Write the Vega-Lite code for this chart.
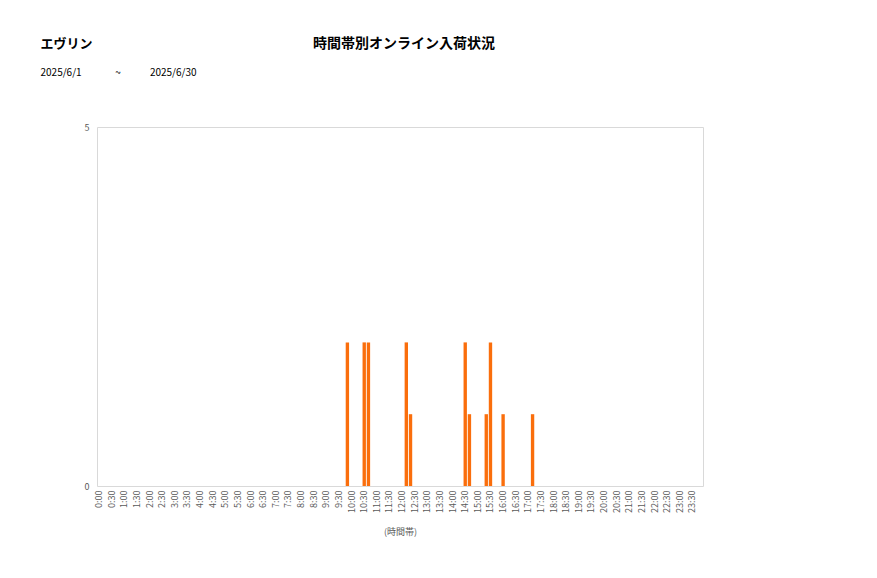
{
  "$schema": "https://vega.github.io/schema/vega-lite/v6.json",
  "padding": {"left": 40, "top": 36, "right": 5, "bottom": 5},
  "background": "white",
  "title": {
    "text": "エヴリン",
    "subtitle": "\u00a02025/6/1\u00a0\u00a0\u00a0\u00a0\u00a0\u00a0\u00a0\u00a0\u00a0\u00a0\u00a0\u00a0\u00a0\u00a0\u00a0~\u00a0\u00a0\u00a0\u00a0\u00a0\u00a0\u00a0\u00a0\u00a0\u00a0\u00a0\u00a0\u00a02025/6/30",
    "anchor": "start",
    "dx": -43,
    "font": "Noto Sans CJK JP",
    "fontSize": 13,
    "fontWeight": "bold",
    "color": "#000000",
    "subtitleFont": "Noto Sans CJK JP",
    "subtitleFontSize": 10,
    "subtitleColor": "#000000",
    "subtitlePadding": 17,
    "offset": -41
  },
  "vconcat": [
    {
      "title": {
        "text": "時間帯別オンライン入荷状況",
        "anchor": "middle",
        "dx": 4,
        "dy": -72,
        "font": "Noto Sans CJK JP",
        "fontSize": 14,
        "fontWeight": "bold",
        "color": "#000000",
        "offset": 0
      },
      "width": 606,
      "height": 359,
      "data": {
        "values": [
          {"t": "0:00", "n": 0}, {"t": "0:10", "n": 0}, {"t": "0:20", "n": 0}, {"t": "0:30", "n": 0}, {"t": "0:40", "n": 0}, {"t": "0:50", "n": 0},
          {"t": "1:00", "n": 0}, {"t": "1:10", "n": 0}, {"t": "1:20", "n": 0}, {"t": "1:30", "n": 0}, {"t": "1:40", "n": 0}, {"t": "1:50", "n": 0},
          {"t": "2:00", "n": 0}, {"t": "2:10", "n": 0}, {"t": "2:20", "n": 0}, {"t": "2:30", "n": 0}, {"t": "2:40", "n": 0}, {"t": "2:50", "n": 0},
          {"t": "3:00", "n": 0}, {"t": "3:10", "n": 0}, {"t": "3:20", "n": 0}, {"t": "3:30", "n": 0}, {"t": "3:40", "n": 0}, {"t": "3:50", "n": 0},
          {"t": "4:00", "n": 0}, {"t": "4:10", "n": 0}, {"t": "4:20", "n": 0}, {"t": "4:30", "n": 0}, {"t": "4:40", "n": 0}, {"t": "4:50", "n": 0},
          {"t": "5:00", "n": 0}, {"t": "5:10", "n": 0}, {"t": "5:20", "n": 0}, {"t": "5:30", "n": 0}, {"t": "5:40", "n": 0}, {"t": "5:50", "n": 0},
          {"t": "6:00", "n": 0}, {"t": "6:10", "n": 0}, {"t": "6:20", "n": 0}, {"t": "6:30", "n": 0}, {"t": "6:40", "n": 0}, {"t": "6:50", "n": 0},
          {"t": "7:00", "n": 0}, {"t": "7:10", "n": 0}, {"t": "7:20", "n": 0}, {"t": "7:30", "n": 0}, {"t": "7:40", "n": 0}, {"t": "7:50", "n": 0},
          {"t": "8:00", "n": 0}, {"t": "8:10", "n": 0}, {"t": "8:20", "n": 0}, {"t": "8:30", "n": 0}, {"t": "8:40", "n": 0}, {"t": "8:50", "n": 0},
          {"t": "9:00", "n": 0}, {"t": "9:10", "n": 0}, {"t": "9:20", "n": 0}, {"t": "9:30", "n": 0}, {"t": "9:40", "n": 0}, {"t": "9:50", "n": 2},
          {"t": "10:00", "n": 0}, {"t": "10:10", "n": 0}, {"t": "10:20", "n": 0}, {"t": "10:30", "n": 2}, {"t": "10:40", "n": 2}, {"t": "10:50", "n": 0},
          {"t": "11:00", "n": 0}, {"t": "11:10", "n": 0}, {"t": "11:20", "n": 0}, {"t": "11:30", "n": 0}, {"t": "11:40", "n": 0}, {"t": "11:50", "n": 0},
          {"t": "12:00", "n": 0}, {"t": "12:10", "n": 2}, {"t": "12:20", "n": 1}, {"t": "12:30", "n": 0}, {"t": "12:40", "n": 0}, {"t": "12:50", "n": 0},
          {"t": "13:00", "n": 0}, {"t": "13:10", "n": 0}, {"t": "13:20", "n": 0}, {"t": "13:30", "n": 0}, {"t": "13:40", "n": 0}, {"t": "13:50", "n": 0},
          {"t": "14:00", "n": 0}, {"t": "14:10", "n": 0}, {"t": "14:20", "n": 0}, {"t": "14:30", "n": 2}, {"t": "14:40", "n": 1}, {"t": "14:50", "n": 0},
          {"t": "15:00", "n": 0}, {"t": "15:10", "n": 0}, {"t": "15:20", "n": 1}, {"t": "15:30", "n": 2}, {"t": "15:40", "n": 0}, {"t": "15:50", "n": 0},
          {"t": "16:00", "n": 1}, {"t": "16:10", "n": 0}, {"t": "16:20", "n": 0}, {"t": "16:30", "n": 0}, {"t": "16:40", "n": 0}, {"t": "16:50", "n": 0},
          {"t": "17:00", "n": 0}, {"t": "17:10", "n": 1}, {"t": "17:20", "n": 0}, {"t": "17:30", "n": 0}, {"t": "17:40", "n": 0}, {"t": "17:50", "n": 0},
          {"t": "18:00", "n": 0}, {"t": "18:10", "n": 0}, {"t": "18:20", "n": 0}, {"t": "18:30", "n": 0}, {"t": "18:40", "n": 0}, {"t": "18:50", "n": 0},
          {"t": "19:00", "n": 0}, {"t": "19:10", "n": 0}, {"t": "19:20", "n": 0}, {"t": "19:30", "n": 0}, {"t": "19:40", "n": 0}, {"t": "19:50", "n": 0},
          {"t": "20:00", "n": 0}, {"t": "20:10", "n": 0}, {"t": "20:20", "n": 0}, {"t": "20:30", "n": 0}, {"t": "20:40", "n": 0}, {"t": "20:50", "n": 0},
          {"t": "21:00", "n": 0}, {"t": "21:10", "n": 0}, {"t": "21:20", "n": 0}, {"t": "21:30", "n": 0}, {"t": "21:40", "n": 0}, {"t": "21:50", "n": 0},
          {"t": "22:00", "n": 0}, {"t": "22:10", "n": 0}, {"t": "22:20", "n": 0}, {"t": "22:30", "n": 0}, {"t": "22:40", "n": 0}, {"t": "22:50", "n": 0},
          {"t": "23:00", "n": 0}, {"t": "23:10", "n": 0}, {"t": "23:20", "n": 0}, {"t": "23:30", "n": 0}, {"t": "23:40", "n": 0}, {"t": "23:50", "n": 0}
        ]
      },
      "mark": {"type": "bar", "color": "#fa6e0c"},
      "encoding": {
        "x": {
          "field": "t",
          "type": "ordinal",
          "sort": null,
          "scale": {"paddingInner": 0.2, "paddingOuter": 0.1},
          "axis": {
            "title": "(時間帯)",
            "titleFont": "Noto Sans CJK JP",
            "titleFontSize": 9,
            "titleFontWeight": "normal",
            "titleColor": "#595959",
            "titlePadding": 15,
            "labelExpr": "slice(datum.value, -2) == '00' || slice(datum.value, -2) == '30' ? datum.value : ''",
            "labelAngle": -90,
            "labelOverlap": false,
            "labelFont": "Noto Sans CJK JP",
            "labelFontSize": 9,
            "labelColor": "#595959",
            "labelPadding": 4,
            "ticks": false,
            "domain": false
          }
        },
        "y": {
          "field": "n",
          "type": "quantitative",
          "scale": {"domain": [0, 5]},
          "axis": {
            "title": null,
            "values": [0, 5],
            "grid": false,
            "ticks": false,
            "domain": false,
            "labelFont": "Noto Sans CJK JP",
            "labelFontSize": 9,
            "labelColor": "#595959",
            "labelPadding": 8
          }
        }
      }
    }
  ],
  "config": {
    "view": {"stroke": "#d9d9d9", "strokeWidth": 1}
  }
}
